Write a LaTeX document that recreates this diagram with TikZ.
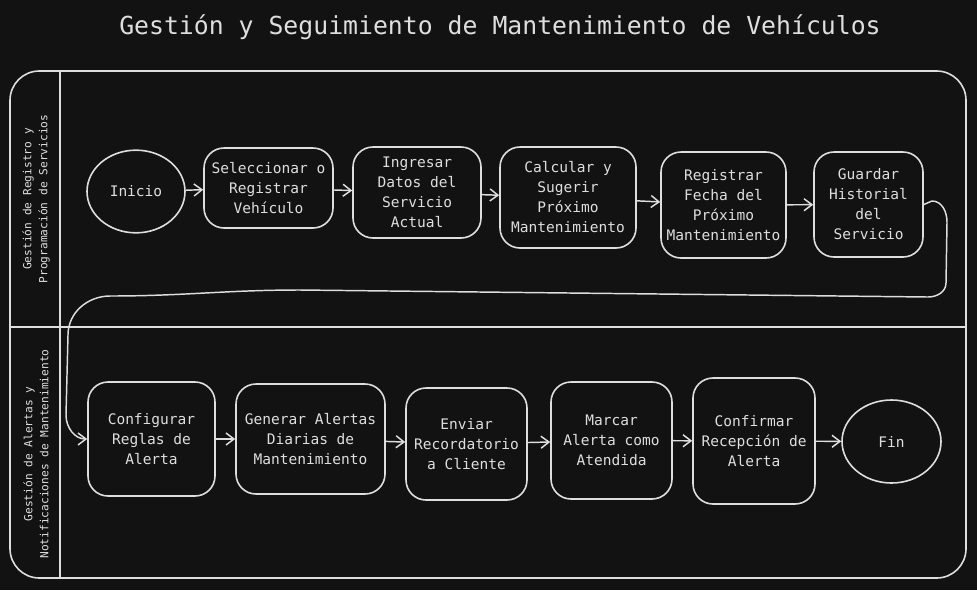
\documentclass[tikz,border=0pt]{standalone}
\usepackage{fontspec}
\setmonofont{DejaVu Sans Mono}
\usetikzlibrary{arrows.meta,shapes.geometric}
\definecolor{bg}{HTML}{121212}
\definecolor{ink}{HTML}{DEDEDE}
\tikzset{
  stepbox/.style={draw=ink, line width=1.2pt, rounded corners=15pt, text=ink, align=center,
    font=\ttfamily\fontsize{10.9}{15}\selectfont, inner sep=0pt},
  termnode/.style={draw=ink, line width=1.2pt, ellipse, text=ink, align=center,
    font=\ttfamily\fontsize{10.9}{15}\selectfont, inner sep=0pt},
  lanelabel/.style={text=ink, align=center, rotate=90, font=\ttfamily\fontsize{8.4}{12}\selectfont},
  arr/.style={draw=ink, line width=1.1pt, -{Straight Barb[length=6pt,width=9pt]}},
  frame/.style={draw=ink, line width=1.2pt}
}
\begin{document}
\begin{tikzpicture}[x=0.75pt,y=-0.75pt]
\fill[bg] (0,0) rectangle (977,590);
\useasboundingbox (0,0) rectangle (977,590);

\node[text=ink, font=\ttfamily\fontsize{18.6}{22}\selectfont] (title) at (500,27) {Gestión y Seguimiento de Mantenimiento de Vehículos};

% swimlane frame
\draw[frame, rounded corners=22pt] (10,71) rectangle (966,578);
\draw[frame] (60,71) -- (60,578);
\draw[frame] (10,327) -- (966,327);

\node[lanelabel] (lane1) at (36,199) {Gestión de Registro y\\Programación de Servicios};
\node[lanelabel] (lane2) at (36,454) {Gestión de Alertas y\\Notificaciones de Mantenimiento};

% top lane
\node[termnode, minimum width=73.5pt, minimum height=62pt] (inicio) at (136,191.5) {Inicio};
\node[stepbox, minimum width=96.75pt, minimum height=60pt] (sel) at (268.5,188) {Seleccionar o\\Registrar\\Vehículo};
\node[stepbox, minimum width=96pt, minimum height=68.25pt] (ing) at (417,192.5) {Ingresar\\Datos del\\Servicio\\Actual};
\node[stepbox, minimum width=102pt, minimum height=75.75pt] (cal) at (568,197.5) {Calcular y\\Sugerir\\Próximo\\Mantenimiento};
\node[stepbox, minimum width=93.75pt, minimum height=79.5pt] (reg) at (723.5,205) {Registrar\\Fecha del\\Próximo\\Mantenimiento};
\node[stepbox, minimum width=81.75pt, minimum height=78.75pt] (gua) at (868.5,204.5) {Guardar\\Historial\\del\\Servicio};

% bottom lane
\node[stepbox, minimum width=95.25pt, minimum height=85.5pt] (cfg) at (151.5,439) {Configurar\\Reglas de\\Alerta};
\node[stepbox, minimum width=111.75pt, minimum height=82.5pt] (gen) at (310.5,439) {Generar Alertas\\Diarias de\\Mantenimiento};
\node[stepbox, minimum width=90.75pt, minimum height=84pt] (env) at (466.5,444) {Enviar\\Recordatorio\\a Cliente};
\node[stepbox, minimum width=90.75pt, minimum height=87.75pt] (mar) at (611.5,440.5) {Marcar\\Alerta como\\Atendida};
\node[stepbox, minimum width=91.5pt, minimum height=94.5pt] (con) at (754,441) {Confirmar\\Recepción de\\Alerta};
\node[termnode, minimum width=74.25pt, minimum height=62.25pt] (fin) at (891.5,441.5) {Fin};

% connectors
\draw[arr] (inicio) -- (sel);
\draw[arr] (sel) -- (ing);
\draw[arr] (ing) -- (cal);
\draw[arr] (cal) -- (reg);
\draw[arr] (reg) -- (gua);
\draw[arr] (gua.east) -- (932,201) to[out=0,in=90] (947,222) -- (946,283)
  to[out=-90,in=0] (928,297) -- (300,290) to[out=180,in=0] (110,296)
  to[out=180,in=90] (68,335) -- (66,415) to[out=-90,in=180] (cfg.west);
\draw[arr] (cfg) -- (gen);
\draw[arr] (gen) -- (env);
\draw[arr] (env) -- (mar);
\draw[arr] (mar) -- (con);
\draw[arr] (con) -- (fin);
\end{tikzpicture}
\end{document}
